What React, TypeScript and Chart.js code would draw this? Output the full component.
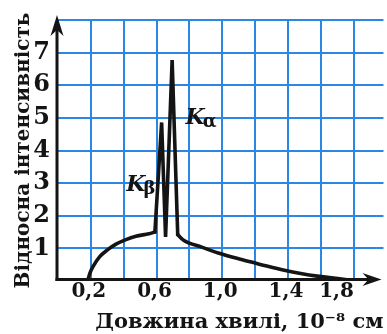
import React, { useEffect, useRef } from 'react';
import { Chart, registerables } from 'chart.js';

Chart.register(...registerables);

// Axis ticks
const xTickValues = [0.2, 0.4, 0.6, 0.8, 1.0, 1.2, 1.4, 1.6, 1.8];
const xTickLabels = ['0,2', '', '0,6', '', '1,0', '', '1,4', '', '1,8'];
const yTickValues = [1, 2, 3, 4, 5, 6, 7, 8];
const yTickLabels = ['1', '2', '3', '4', '5', '6', '7', ''];

// Continuous spectrum, rising part
const riseX = [0.18, 0.195, 0.213, 0.253, 0.303, 0.353, 0.414, 0.474, 0.554, 0.59];
const riseY = [0, 0.25, 0.44, 0.74, 0.96, 1.13, 1.27, 1.37, 1.45, 1.5];
// Characteristic lines Kβ and Kα
const peakX = [0.59, 0.631, 0.655, 0.695, 0.729];
const peakY = [1.5, 4.86, 1.35, 6.77, 1.42];
// Continuous spectrum, falling part
const tailX = [0.729, 0.765, 0.875, 0.976, 1.077, 1.177, 1.277, 1.378, 1.478, 1.578, 1.679, 1.76, 1.8];
const tailY = [1.42, 1.25, 1.04, 0.86, 0.71, 0.58, 0.45, 0.33, 0.23, 0.15, 0.09, 0.04, 0];

// Line annotations
const lineNames = ['K', 'K'];
const lineSubscripts = ['β', 'α'];
const lineLabelX = [0.416, 0.777];
const lineLabelY = [2.77, 4.81];

const xTitle = 'Довжина хвилі, 10⁻⁸ см';
const yTitle = 'Відносна інтенсивність';

const INK = '#141414';
const GRID = '#2b87e3';
const FAMILY = '"DejaVu Serif", serif';

const toPoints = (xs: number[], ys: number[]) => xs.map((x, i) => ({ x, y: ys[i] }));

const axesPlugin = {
  id: 'axesArrows',
  afterDraw(chart: any) {
    const { ctx, chartArea: a } = chart;
    ctx.save();
    ctx.strokeStyle = INK;
    ctx.fillStyle = INK;
    ctx.lineWidth = 3;
    const ax = a.left - 1;
    const ay = a.bottom - 1.5;
    // y axis
    ctx.beginPath();
    ctx.moveTo(ax, ay + 1.5);
    ctx.lineTo(ax, a.top + 4);
    ctx.stroke();
    // x axis
    ctx.beginPath();
    ctx.moveTo(ax - 1.5, ay);
    ctx.lineTo(a.right - 10, ay);
    ctx.stroke();
    // y arrowhead
    const tipY = a.top - 5;
    ctx.beginPath();
    ctx.moveTo(ax, tipY);
    ctx.lineTo(ax + 6.5, tipY + 21);
    ctx.lineTo(ax, tipY + 15);
    ctx.lineTo(ax - 6.5, tipY + 21);
    ctx.closePath();
    ctx.fill();
    // x arrowhead
    const tipX = a.right - 2;
    ctx.beginPath();
    ctx.moveTo(tipX, ay);
    ctx.lineTo(tipX - 19, ay - 6.5);
    ctx.lineTo(tipX - 13, ay);
    ctx.lineTo(tipX - 19, ay + 6.5);
    ctx.closePath();
    ctx.fill();

    // K-line labels
    const xs = chart.scales.x;
    const ys = chart.scales.y;
    ctx.textBaseline = 'alphabetic';
    ctx.textAlign = 'left';
    for (let i = 0; i < lineNames.length; i++) {
      const px = xs.getPixelForValue(lineLabelX[i]);
      const py = ys.getPixelForValue(lineLabelY[i]);
      ctx.font = `italic bold 22px ${FAMILY}`;
      ctx.fillText(lineNames[i], px, py);
      const w = ctx.measureText(lineNames[i]).width;
      ctx.font = `bold 18px ${FAMILY}`;
      ctx.fillText(lineSubscripts[i], px + w - 2, py + 3);
    }
    ctx.restore();
  },
};

export default function App() {
  const ref = useRef<HTMLCanvasElement>(null);

  useEffect(() => {
    if (!ref.current) return;
    const lineStyle = {
      borderColor: INK,
      borderWidth: 3.6,
      pointRadius: 0,
      borderCapStyle: 'round' as const,
      borderJoinStyle: 'round' as const,
      fill: false,
    };
    const chart = new Chart(ref.current, {
      type: 'line',
      data: {
        datasets: [
          { ...lineStyle, data: toPoints(riseX, riseY), cubicInterpolationMode: 'monotone' },
          { ...lineStyle, data: toPoints(peakX, peakY), tension: 0, borderJoinStyle: 'miter' as const },
          { ...lineStyle, data: toPoints(tailX, tailY), cubicInterpolationMode: 'monotone' },
        ],
      },
      options: {
        animation: false,
        responsive: false,
        maintainAspectRatio: false,
        layout: { padding: { top: 18, right: 0, left: 0, bottom: 0 } },
        plugins: { legend: { display: false }, tooltip: { enabled: false } },
        scales: {
          x: {
            type: 'linear',
            min: 0,
            max: 1.982,
            afterBuildTicks: (s: any) => {
              s.ticks = xTickValues.map((v) => ({ value: v }));
            },
            afterFit: (s: any) => {
              s.height = 53;
            },
            ticks: {
              autoSkip: false,
              maxRotation: 0,
              minRotation: 0,
              padding: 1,
              labelOffset: -2,
              color: INK,
              font: { family: FAMILY, weight: 'bold', size: 20, lineHeight: 1 },
              callback: (_v: any, i: number) => {
                const label = xTickLabels[i] ?? '';
                return i === xTickLabels.length - 1 ? label + '\u2003\u2002' : label;
              },
            },
            grid: { color: GRID, lineWidth: 2, drawTicks: false },
            border: { display: false },
            title: {
              display: true,
              text: xTitle,
              align: 'end',
              color: INK,
              font: { family: FAMILY, weight: 'bold', size: 21, lineHeight: 1 },
              padding: { top: 0, bottom: 1 },
            },
          },
          y: {
            type: 'linear',
            min: 0,
            max: 8,
            afterBuildTicks: (s: any) => {
              s.ticks = yTickValues.map((v) => ({ value: v }));
            },
            afterFit: (s: any) => {
              s.width = 58;
            },
            ticks: {
              padding: 8,
              color: INK,
              font: { family: FAMILY, weight: 'bold', size: 24, lineHeight: 1 },
              callback: (_v: any, i: number) => yTickLabels[i] ?? '',
            },
            grid: { color: GRID, lineWidth: 2, drawTicks: false },
            border: { display: false },
            title: {
              display: true,
              text: yTitle,
              color: INK,
              font: { family: FAMILY, weight: 'bold', size: 20, lineHeight: 1 },
              padding: { top: 14, bottom: 0 },
            },
          },
        },
      },
      plugins: [axesPlugin],
    } as any);
    return () => chart.destroy();
  }, []);

  return (
    <div style={{ position: 'fixed', left: 0, top: 0, width: 387, height: 334, background: '#fff' }}>
      <canvas ref={ref} width={387} height={334} style={{ width: 387, height: 334, display: 'block' }} />
    </div>
  );
}
